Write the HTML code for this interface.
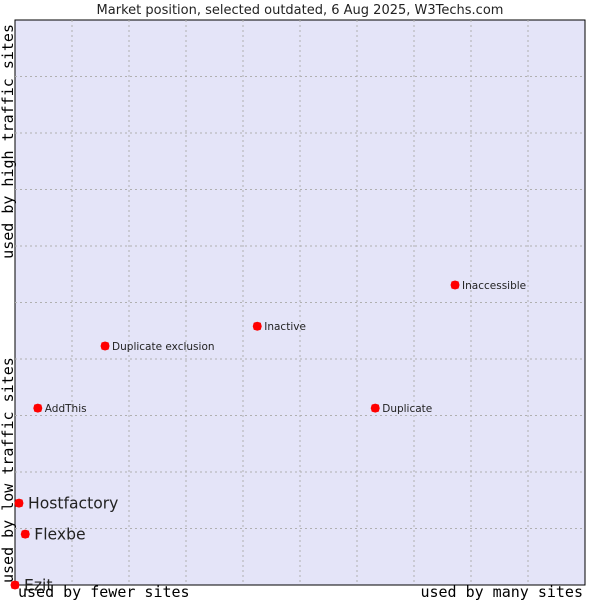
<!DOCTYPE html>
<html><head><meta charset="utf-8"><style>
body{margin:0;background:#fff;width:600px;height:600px;overflow:hidden}
svg text{font-family:"DejaVu Sans","Liberation Sans",sans-serif}
.ax{font-family:"DejaVu Sans Mono","Liberation Mono",monospace !important;font-size:15px;fill:#000}
</style></head><body>
<svg id="chart" width="600" height="600" xmlns="http://www.w3.org/2000/svg">
<text x="300" y="14" text-anchor="middle" font-size="13" fill="#222">Market position, selected outdated, 6 Aug 2025, W3Techs.com</text>
<rect x="15" y="20" width="570" height="565" fill="#e4e4f8" stroke="#000" stroke-width="1"/>
<g id="grid"></g>
<g id="points"></g>
<text class="ax" x="18" y="597">used by fewer sites</text>
<text class="ax" x="583" y="597" text-anchor="end">used by many sites</text>
<text class="ax" transform="translate(13,24) rotate(-90)" text-anchor="end">used by high traffic sites</text>
<text class="ax" transform="translate(13,583) rotate(-90)">used by low traffic sites</text>
</svg>
<script>
const names=["Ezit","Hostfactory","Flexbe","AddThis","Duplicate exclusion","Inactive","Duplicate","Inaccessible"];
const xValues=[0,0.7,1.8,4.0,15.8,42.5,63.2,77.2];
const yValues=[0,14.5,9.0,31.3,42.3,45.8,31.3,53.1];
const bigLabel=[true,true,true,false,false,false,false,false];
const NS="http://www.w3.org/2000/svg";
const X=v=>15+v*5.7, Y=v=>585-v*5.65;
const grid=document.getElementById('grid'), pts=document.getElementById('points');
for(let i=1;i<10;i++){
  const v=document.createElementNS(NS,'line');
  
  
  v.setAttribute('x1',X(i*10));v.setAttribute('x2',X(i*10));v.setAttribute('y1',20);v.setAttribute('y2',585);
  v.setAttribute('stroke','#b0b0b0');v.setAttribute('stroke-dasharray','2,3');grid.appendChild(v);
  const h=document.createElementNS(NS,'line');
  
  
  h.setAttribute('y1',Y(i*10));h.setAttribute('y2',Y(i*10));h.setAttribute('x1',15);h.setAttribute('x2',585);
  h.setAttribute('stroke','#b0b0b0');h.setAttribute('stroke-dasharray','2,3');grid.appendChild(h);
}
names.forEach((n,i)=>{
  const cx=X(xValues[i]),cy=Y(yValues[i]);
  const p=document.createElementNS(NS,'polygon');
  
  
  p.setAttribute('points',`${cx},${cy-4.5} ${cx+3.5},${cy-3.5} ${cx+4.5},${cy} ${cx+3.5},${cy+3.5} ${cx},${cy+4.5} ${cx-3.5},${cy+3.5} ${cx-4.5},${cy} ${cx-3.5},${cy-3.5}`);
  p.setAttribute('fill','#f00');pts.appendChild(p);
  const t=document.createElementNS(NS,'text');
  
  
  t.setAttribute('x',cx+(bigLabel[i]?9:7));t.setAttribute('y',cy+(bigLabel[i]?5.5:4));
  t.setAttribute('font-size',bigLabel[i]?15.6:10.5);t.setAttribute('fill','#222');
  t.textContent=n;pts.appendChild(t);
});
</script>
</body></html>
